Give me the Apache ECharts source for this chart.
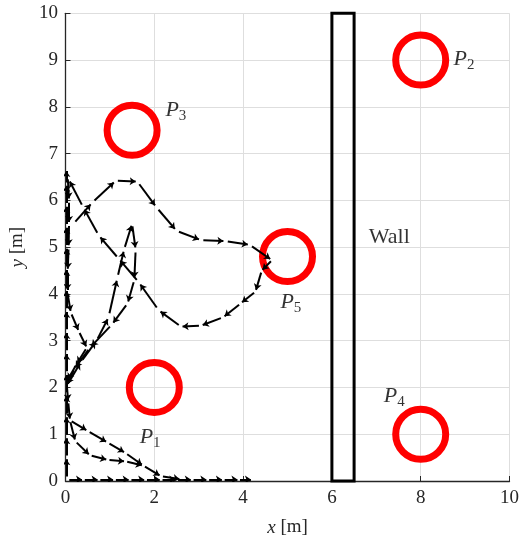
<!DOCTYPE html>
<html>
<head>
<meta charset="utf-8">
<script src="https://cdn.jsdelivr.net/npm/echarts@6/dist/echarts.min.js"></script>
<style>
  html, body { margin: 0; padding: 0; background: #fff; }
  #main { width: 522px; height: 544px; }
</style>
</head>
<body>
<div id="main"></div>
<script type="text/javascript">
// target positions (circle centres, m)
var targets = [[2, 2], [8, 9], [1.5, 7.5], [8, 1], [5, 4.8]];
// label anchors (left edge of text) and names
var labelNames = ['1', '2', '3', '4', '5'];
var labelPos = [[1.67, 0.94], [8.74, 9.02], [2.25, 7.93], [7.17, 1.82], [4.84, 3.82]];
// wall rectangle [x0, y0, x1, y1]
var wall = [[6, 0, 6.5, 10]];
var wallLabel = [[6.83, 5.21]];
var xTicks = [0, 2, 4, 6, 8, 10];
var yTicks = [0, 1, 2, 3, 4, 5, 6, 7, 8, 9, 10];

// robot trajectories (m)
var pathUp = [[0.02,0.05],[0.02,0.5],[0.02,0.95],[0.02,1.4],[0.02,1.85],[0.02,2.3],[0.02,2.75],[0.02,3.2],
  [0.02,3.65],[0.02,4.1],[0.02,4.55],[0.02,5.0],[0.02,5.45],[0.02,5.9],[0.02,6.35],[0.02,6.65]];
var pathBottom = [[0.05,0.03],[0.4,0.03],[0.75,0.03],[1.1,0.03],[1.45,0.03],[1.8,0.03],[2.15,0.03],
  [2.5,0.03],[2.85,0.03],[3.2,0.03],[3.55,0.03],[3.9,0.03],[4.2,0.03]];
var pathLowA = [[0.03,2.05],[0.06,1.7],[0.1,1.3],[0.5,1.07],[0.95,0.82],[1.35,0.6],[1.75,0.33],[2.15,0.1],[2.6,0.04]];
var pathLowB = [[0.1,1.3],[0.22,0.85],[0.55,0.55],[0.95,0.45],[1.35,0.42],[1.75,0.33]];
var pathDown = [[0.05,6.5],[0.08,6.0],[0.08,5.5],[0.07,5.0],[0.05,4.5],[0.04,4.05],[0.12,3.6],[0.3,3.2],
  [0.48,2.85],[0.25,2.5],[0.04,2.15]];
var pathLoop = [[0.04,2.05],[0.35,2.55],[0.7,3.0],[0.97,3.5],[1.17,4.35],[1.32,4.95],[1.5,5.5],[1.58,4.95],
  [1.55,4.3],[1.4,3.8],[1.05,3.35],[0.55,2.85],[0.2,2.4],[0.04,2.05]];
var pathBig = [[0.18,5.5],[0.6,5.95],[1.13,6.42],[1.62,6.4],[2.05,5.85],[2.5,5.35],[3.05,5.15],[3.6,5.13],
  [4.15,5.05],[4.65,4.72],[4.42,4.5],[4.28,4.05],[3.95,3.8],[3.55,3.5],[3.05,3.32],[2.6,3.3],[2.1,3.65],
  [1.65,4.25],[1.2,4.75],[0.75,5.25],[0.4,5.85],[0.07,6.45]];
var paths = [pathUp, pathBottom, pathLowA, pathLowB, pathDown, pathLoop, pathBig];

var arrows = [];
paths.forEach(function (p) {
    for (var i = 0; i < p.length - 1; i++) {
        var a = p[i], b = p[i + 1];
        var dx = b[0] - a[0], dy = b[1] - a[1];
        arrows.push({ coords: [[a[0] + dx * 0.1, a[1] + dy * 0.1], [b[0] - dx * 0.08, b[1] - dy * 0.08]] });
    }
});

var serif = '"Liberation Serif", "DejaVu Serif", serif';
var txt = '#262626';

var myChart = echarts.init(document.getElementById('main'));
var option = {
    animation: false,
    grid: { left: 64.5, right: 10.3, top: 13.3, bottom: 63 },
    xAxis: {
        type: 'value', min: 0, max: 10, interval: 2, offset: 4,
        name: '{i|x} [m]', nameLocation: 'middle', nameGap: 33,
        nameTextStyle: { fontFamily: serif, fontSize: 19, color: txt,
            rich: { i: { fontStyle: 'italic', fontFamily: serif, fontSize: 19, color: txt } } },
        axisLine: { lineStyle: { color: txt, width: 1.3 } },
        axisTick: { inside: true, length: 5, lineStyle: { color: txt } },
        axisLabel: { fontFamily: serif, fontSize: 19, color: txt, margin: 4 },
        splitLine: { lineStyle: { color: '#dedede', width: 1 } }
    },
    yAxis: {
        type: 'value', min: 0, max: 10, interval: 1, offset: 2.5,
        name: '{i|y} [m]', nameLocation: 'middle', nameGap: 36, nameRotate: 90,
        nameTextStyle: { fontFamily: serif, fontSize: 19, color: txt,
            rich: { i: { fontStyle: 'italic', fontFamily: serif, fontSize: 19, color: txt } } },
        axisLine: { lineStyle: { color: txt, width: 1.3 } },
        axisTick: { inside: true, length: 5, lineStyle: { color: txt } },
        axisLabel: { fontFamily: serif, fontSize: 19, color: txt, margin: 5 },
        splitLine: { lineStyle: { color: '#dedede', width: 1 } }
    },
    series: [
        {
            type: 'custom',
            renderItem: function (params, api) {
                var p0 = api.coord([api.value(0), api.value(1)]);
                var p1 = api.coord([api.value(2), api.value(3)]);
                return {
                    type: 'rect',
                    shape: { x: p0[0], y: p1[1], width: p1[0] - p0[0], height: p0[1] - p1[1] },
                    style: { fill: 'none', stroke: '#000', lineWidth: 3 }
                };
            },
            data: wall,
            z: 3
        },
        {
            type: 'scatter',
            symbol: 'circle',
            symbolSize: 50,
            itemStyle: { color: 'rgba(0,0,0,0)', borderColor: '#ff0000', borderWidth: 7, opacity: 1 },
            data: targets,
            z: 4
        },
        {
            type: 'lines',
            coordinateSystem: 'cartesian2d',
            symbol: ['none', 'arrow'],
            symbolSize: 6,
            lineStyle: { color: '#000', width: 2, opacity: 1 },
            data: arrows,
            z: 5
        },
        {
            type: 'scatter',
            symbolSize: 0,
            label: {
                show: true, position: 'right', distance: 0,
                formatter: function (p) { return '{p|P}{s|' + labelNames[p.dataIndex] + '}'; },
                rich: {
                    p: { fontFamily: serif, fontStyle: 'italic', fontSize: 22, color: '#000' },
                    s: { fontFamily: serif, fontSize: 15, color: '#000', padding: [12, 0, 0, 0] }
                }
            },
            data: labelPos,
            z: 6
        },
        {
            type: 'scatter',
            symbolSize: 0,
            label: {
                show: true, position: 'right', distance: 0,
                formatter: 'Wall',
                fontFamily: serif, fontSize: 22, color: '#000'
            },
            data: wallLabel,
            z: 6
        }
    ]
};
myChart.setOption(option);
</script>
</body>
</html>
